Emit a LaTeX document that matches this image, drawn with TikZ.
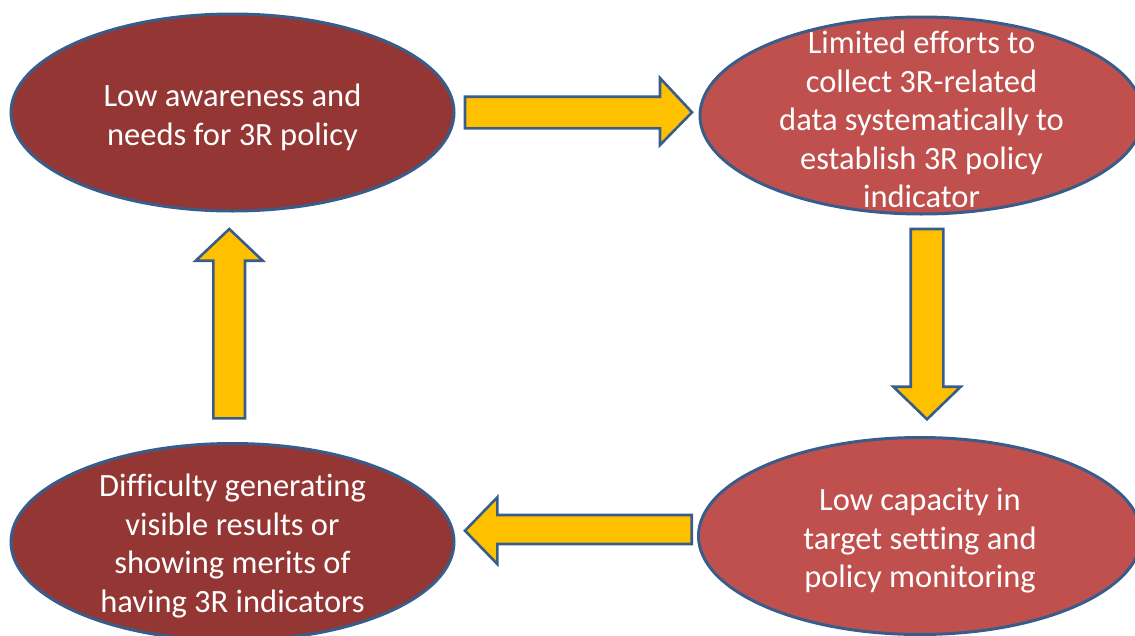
\documentclass[tikz,border=0pt]{standalone}
\usepackage{fontspec}
\setmainfont{Carlito}[Ligatures=NoCommon]
\usetikzlibrary{shapes.geometric}
\definecolor{darkred}{HTML}{943634}
\definecolor{lightred}{HTML}{C0504D}
\definecolor{edgeblue}{HTML}{385D8A}
\definecolor{arrowfill}{HTML}{FFC000}
\tikzset{
  bubble/.style={ellipse, draw=edgeblue, line width=3pt, minimum width=443pt, minimum height=197pt, inner sep=0pt},
  bubbletext/.style={text=white, align=center, font=\fontsize{32.5pt}{38.5pt}\selectfont, inner sep=0pt},
  blockarrow/.style={fill=arrowfill, draw=edgeblue, line width=2.6pt, line join=miter}
}
\begin{document}
\begin{tikzpicture}[x=1pt,y=-1pt]
\useasboundingbox (0,0) rectangle (1135,635);
% ellipses
\node[bubble, fill=darkred]  (tl) at (232.5,112.5) {};
\node[bubble, fill=lightred] (tr) at (921.5,115.5) {};
\node[bubble, fill=darkred]  (bl) at (232.5,542) {};
\node[bubble, fill=lightred] (br) at (920,536) {};
% texts
\node[bubbletext] (tlt) at ([yshift=-5pt]tl.center) {Low awareness and\\needs for 3R policy};
\node[bubbletext] (trt) at ([yshift=-4pt]tr.center) {Limited efforts to\\collect 3R-related\\data systematically to\\establish 3R policy\\indicator};
\node[bubbletext] (blt) at ([yshift=-4pt]bl.center) {Difficulty generating\\visible results or\\showing merits of\\having 3R indicators};
\node[bubbletext] (brt) at ([yshift=-5pt]br.center) {Low capacity in\\target setting and\\policy monitoring};
% block arrows
\draw[blockarrow] (465,96.7) -- (660,96.7) -- (660,78) -- (692,112.3) -- (660,145) -- (660,128.3) -- (465,128.3) -- cycle;
\draw[blockarrow] (910.7,229) -- (943.3,229) -- (943.3,386.7) -- (960.7,386.7) -- (927,419.3) -- (893.3,386.7) -- (910.7,386.7) -- cycle;
\draw[blockarrow] (691.7,515) -- (497.3,515) -- (497.3,497.3) -- (465,530.7) -- (497.3,564) -- (497.3,544) -- (691.7,544) -- cycle;
\draw[blockarrow] (213.3,418.3) -- (213.3,260.7) -- (195.7,260.7) -- (229.3,229) -- (262.7,260.7) -- (245,260.7) -- (245,418.3) -- cycle;
\end{tikzpicture}
\end{document}
